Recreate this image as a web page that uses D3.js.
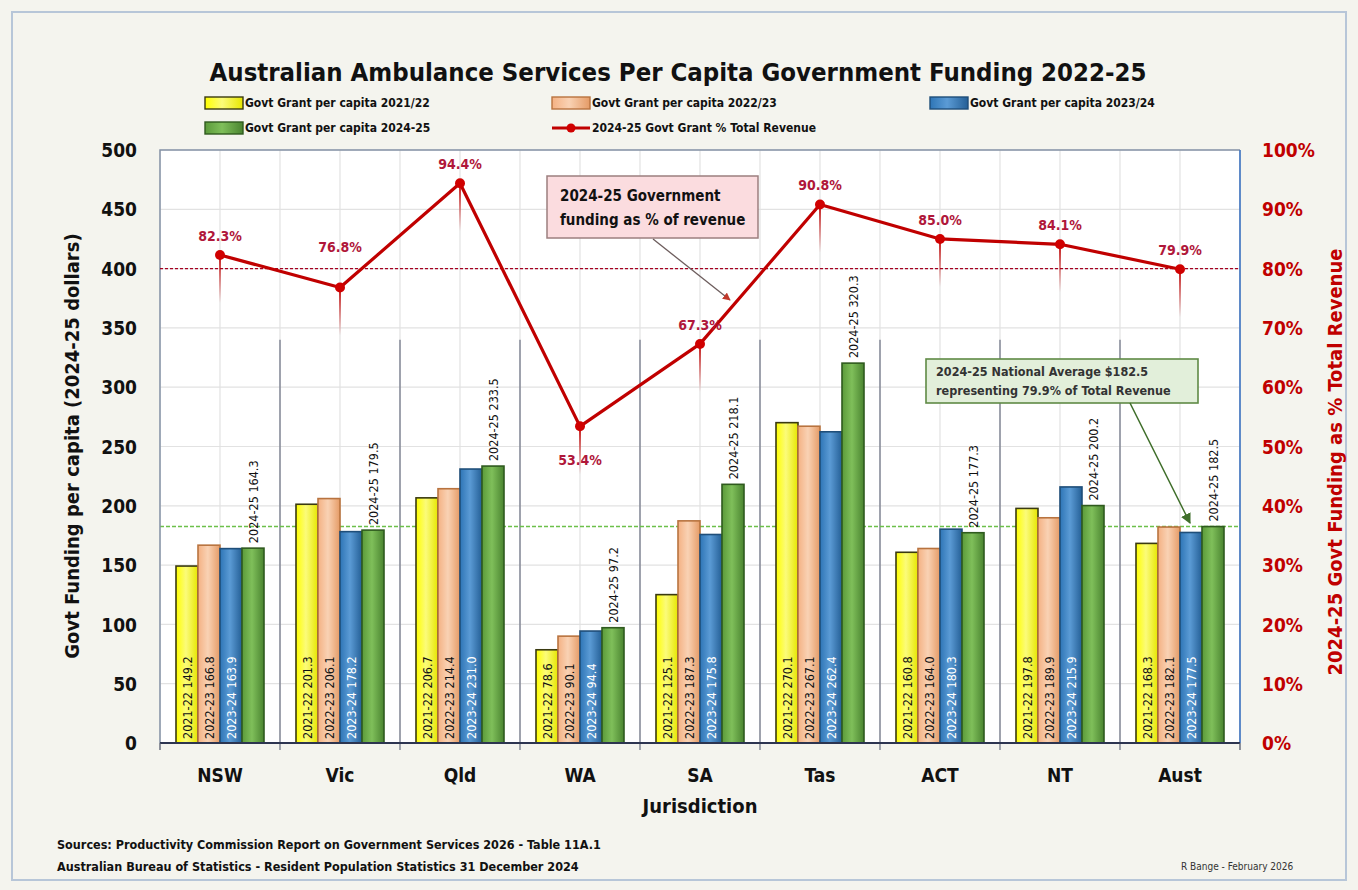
<!DOCTYPE html>
<html>
<head>
<meta charset="utf-8">
<script src="https://cdn.jsdelivr.net/npm/d3@7"></script>
<style>
  body { margin:0; background:#fff; }
  svg text { font-family: "Liberation Sans Narrow", "DejaVu Sans Condensed", "Open Sans", sans-serif; }
</style>
</head>
<body>
<div id="chart"></div>
<script>
const W = 1358, H = 890;

// data
const jurisdictions = ["NSW","Vic","Qld","WA","SA","Tas","ACT","NT","Aust"];
const years = ["2021-22","2022-23","2023-24","2024-25"];
const grant2122 = [149.2,201.3,206.7,78.6,125.1,270.1,160.8,197.8,168.3];
const grant2223 = [166.8,206.1,214.4,90.1,187.3,267.1,164.0,189.9,182.1];
const grant2324 = [163.9,178.2,231.0,94.4,175.8,262.4,180.3,215.9,177.5];
const grant2425 = [164.3,179.5,233.5,97.2,218.1,320.3,177.3,200.2,182.5];
const pctRevenue = [82.3,76.8,94.4,53.4,67.3,90.8,85.0,84.1,79.9];
const nationalAvg = 182.5;
const pctRef = 80;
const leftTicks = [0,50,100,150,200,250,300,350,400,450,500];
const rightTicks = [0,10,20,30,40,50,60,70,80,90,100];
const legendLabels = ["Govt Grant per capita 2021/22","Govt Grant per capita 2022/23","Govt Grant per capita 2023/24",
  "Govt Grant per capita 2024-25","2024-25 Govt Grant % Total Revenue"];

const series = [grant2122, grant2223, grant2324, grant2425];
const strokes = ["#3a3a10","#b8733f","#1f4e79","#2f5a1e"];
const labelCol = ["#111","#111","#fff","#111"];

const svg = d3.select("#chart").append("svg")
  .attr("width",W).attr("height",H);

const defs = svg.append("defs");
// bevel gradients for the bars
const gradStops = [
  ["#fbfb7a","#ffff00","#e6e600"],
  ["#f9d2b4","#f4b183","#e59b66"],
  ["#5b9bd5","#2e75b6","#245f96"],
  ["#7fbf5a","#5b9a3a","#4a8430"]
];
gradStops.forEach((s,i)=>{
  const g = defs.append("linearGradient").attr("id","g"+i).attr("x1","0").attr("x2","1").attr("y1","0").attr("y2","0");
  g.append("stop").attr("offset","0%").attr("stop-color",s[1]);
  g.append("stop").attr("offset","45%").attr("stop-color",s[0]);
  g.append("stop").attr("offset","100%").attr("stop-color",s[2]);
});
const drop = defs.append("linearGradient").attr("id","drop").attr("x1","0").attr("x2","0").attr("y1","0").attr("y2","1");
drop.append("stop").attr("offset","0%").attr("stop-color","#c00000").attr("stop-opacity",0.9);
drop.append("stop").attr("offset","100%").attr("stop-color","#c00000").attr("stop-opacity",0);

defs.append("marker").attr("id","arrG").attr("viewBox","0 0 10 10").attr("refX",9).attr("refY",5)
  .attr("markerWidth",7).attr("markerHeight",7).attr("orient","auto")
  .append("path").attr("d","M0,0L10,5L0,10z").attr("fill","#3f6e2a");
defs.append("marker").attr("id","arrR").attr("viewBox","0 0 10 10").attr("refX",9).attr("refY",5)
  .attr("markerWidth",6).attr("markerHeight",6).attr("orient","auto")
  .append("path").attr("d","M0,0L10,5L0,10z").attr("fill","#c0392b");

// page background + frame
svg.append("rect").attr("x",0).attr("y",0).attr("width",W).attr("height",H).attr("fill","#f4f4ee");
svg.append("rect").attr("x",12).attr("y",12).attr("width",W-24).attr("height",H-22)
  .attr("fill","none").attr("stroke","#b7c6d8").attr("stroke-width",2);

// scales
const x0 = d3.scaleBand().domain(jurisdictions).range([160,1240]);
const x1 = d3.scaleBand().domain(years).range([16,104]);
const y = d3.scaleLinear().domain([0,500]).range([743,150]);
const y2 = d3.scaleLinear().domain([0,100]).range([743,150]);

// plot area
svg.append("rect").attr("x",160).attr("y",150).attr("width",1080).attr("height",593).attr("fill","#ffffff");

// grid
svg.append("g").selectAll("line").data(leftTicks.slice(1)).enter().append("line")
  .attr("x1",160).attr("x2",1240).attr("y1",d=>y(d)).attr("y2",d=>y(d))
  .attr("stroke","#e2e2e2").attr("stroke-width",1.2);
const halfSteps = d3.range(0,19).map(i=>160+i*x0.bandwidth()/2);
svg.append("g").selectAll("line").data(halfSteps).enter().append("line")
  .attr("x1",d=>d).attr("x2",d=>d).attr("y1",150).attr("y2",743)
  .attr("stroke","#e2e2e2").attr("stroke-width",1.2);
// band separators
svg.append("g").selectAll("line").data(jurisdictions.slice(1)).enter().append("line")
  .attr("x1",d=>x0(d)).attr("x2",d=>x0(d)).attr("y1",y(340)).attr("y2",750)
  .attr("stroke","#6a7082").attr("stroke-width",1.2);

// national average line
svg.append("line").attr("x1",160).attr("x2",1240).attr("y1",y(nationalAvg)).attr("y2",y(nationalAvg))
  .attr("stroke","#6cc04a").attr("stroke-width",1.6).attr("stroke-dasharray","4,2");

// bars
const groups = svg.append("g").selectAll("g").data(jurisdictions).enter().append("g")
  .attr("transform",d=>`translate(${x0(d)},0)`);
series.forEach((s,si)=>{
  groups.append("rect")
    .attr("x",x1(years[si])).attr("width",x1.bandwidth())
    .attr("y",(d,i)=>y(s[i])).attr("height",(d,i)=>y(0)-y(s[i]))
    .attr("fill",`url(#g${si})`).attr("stroke",strokes[si]).attr("stroke-width",1.6);
});
// bar labels inside (first three years)
series.slice(0,3).forEach((s,si)=>{
  groups.append("text")
    .attr("transform",(d,i)=>`translate(${x1(years[si])+x1.bandwidth()/2+0.5},${y(0)-4}) rotate(-90)`)
    .attr("dy","0.35em").attr("font-size",12.5).attr("fill",labelCol[si])
    .text((d,i)=>years[si]+"  "+s[i].toFixed(1));
});
// 2024-25 labels above bars
groups.append("text")
  .attr("transform",(d,i)=>`translate(${x1(years[3])+x1.bandwidth()/2+0.5},${y(grant2425[i])-5}) rotate(-90)`)
  .attr("dy","0.35em").attr("font-size",12.5).attr("fill","#111")
  .text((d,i)=>"2024-25  "+grant2425[i].toFixed(1));

// plot border
svg.append("path").attr("d","M160,743V150H1240").attr("fill","none").attr("stroke","#8592a6").attr("stroke-width",1.5);
svg.append("line").attr("x1",1240).attr("x2",1240).attr("y1",150).attr("y2",743).attr("stroke","#4f7fc4").attr("stroke-width",1.8);
svg.append("line").attr("x1",160).attr("x2",1240).attr("y1",743).attr("y2",743).attr("stroke","#2d3550").attr("stroke-width",2);
svg.append("g").selectAll("line").data([160,1240]).enter().append("line")
  .attr("x1",d=>d).attr("x2",d=>d).attr("y1",743).attr("y2",750).attr("stroke","#555b6e").attr("stroke-width",1.3);

// 80% reference line
svg.append("line").attr("x1",160).attr("x2",1240).attr("y1",y2(pctRef)).attr("y2",y2(pctRef))
  .attr("stroke","#a50021").attr("stroke-width",1.4).attr("stroke-dasharray","3,2");

// % revenue line
const cx = d => x0(d)+x0.bandwidth()/2;
svg.append("g").selectAll("rect").data(jurisdictions).enter().append("rect")
  .attr("x",d=>cx(d)-1).attr("width",2).attr("y",(d,i)=>y2(pctRevenue[i])).attr("height",48)
  .attr("fill","url(#drop)");
const line = d3.line().x(d=>cx(d)).y((d)=>y2(pctRevenue[jurisdictions.indexOf(d)]));
svg.append("path").datum(jurisdictions).attr("d",line)
  .attr("fill","none").attr("stroke","#c00000").attr("stroke-width",3.2).attr("stroke-linejoin","round");
svg.append("g").selectAll("circle").data(jurisdictions).enter().append("circle")
  .attr("cx",d=>cx(d)).attr("cy",(d,i)=>y2(pctRevenue[i])).attr("r",5).attr("fill","#d00000");
// labels sit above the marker, except where the line would cross them
const labelShift = d => d === "WA" ? 34 : d === "Vic" ? -40 : -19;
svg.append("g").selectAll("text").data(jurisdictions).enter().append("text")
  .attr("x",d=>cx(d)).attr("y",(d,i)=>y2(pctRevenue[i])+labelShift(d))
  .attr("text-anchor","middle").attr("dy","0.35em").attr("font-size",14).attr("font-weight","bold").attr("fill","#b0173a")
  .text((d,i)=>pctRevenue[i].toFixed(1)+"%");

// axes
const yAxisL = svg.append("g").attr("transform","translate(160,0)")
  .call(d3.axisLeft(y).tickValues(leftTicks).tickSize(0).tickPadding(23));
yAxisL.select(".domain").remove();
yAxisL.selectAll("text").attr("font-size",19).attr("font-weight","bold").attr("fill","#111").attr("dy","0.35em");

const yAxisR = svg.append("g").attr("transform","translate(1240,0)")
  .call(d3.axisRight(y2).tickValues(rightTicks).tickSize(0).tickPadding(22).tickFormat(d=>d+"%"));
yAxisR.select(".domain").remove();
yAxisR.selectAll("text").attr("font-size",19).attr("font-weight","bold").attr("fill","#c00000").attr("dy","0.35em");

const xAxis = svg.append("g").attr("transform","translate(0,743)")
  .call(d3.axisBottom(x0).tickSize(0).tickPadding(32));
xAxis.select(".domain").remove();
xAxis.selectAll("text").attr("font-size",19).attr("font-weight","bold").attr("fill","#111").attr("dy","0.35em")
  .attr("y",32);

// axis titles
svg.append("text").attr("transform","translate(72,446) rotate(-90)").attr("text-anchor","middle")
  .attr("font-size",20).attr("font-weight","bold").attr("fill","#111")
  .attr("dy","0.35em").text("Govt Funding per capita  (2024-25 dollars)");
svg.append("text").attr("transform","translate(1335,462) rotate(-90)").attr("text-anchor","middle")
  .attr("font-size",20).attr("font-weight","bold").attr("fill","#c00000")
  .attr("dy","0.35em").text("2024-25 Govt Funding as %  Total Revenue");
svg.append("text").attr("x",700).attr("y",806).attr("text-anchor","middle").attr("dy","0.35em")
  .attr("font-size",20).attr("font-weight","bold").attr("fill","#111").text("Jurisdiction");

// title
svg.append("text").attr("x",678).attr("y",72).attr("text-anchor","middle").attr("dy","0.35em")
  .attr("font-size",25.5).attr("font-weight","bold").attr("fill","#111")
  .text("Australian Ambulance Services Per Capita Government Funding 2022-25");

// legend
const legendPos = [[205,103],[552,103],[930,103],[205,128],[552,128]];
legendLabels.forEach((lab,i)=>{
  const [lx,ly] = legendPos[i];
  if(i<4){
    svg.append("rect").attr("x",lx).attr("y",ly-6).attr("width",38).attr("height",12)
      .attr("fill",`url(#g${i})`).attr("stroke",strokes[i]).attr("stroke-width",1.4);
  } else {
    svg.append("line").attr("x1",lx).attr("x2",lx+38).attr("y1",ly).attr("y2",ly)
      .attr("stroke","#c00000").attr("stroke-width",3.2);
    svg.append("circle").attr("cx",lx+19).attr("cy",ly).attr("r",4.5).attr("fill","#d00000");
  }
  svg.append("text").attr("x",lx+40).attr("y",ly).attr("dy","0.35em")
    .attr("font-size",12).attr("font-weight","bold").attr("fill","#111").text(lab);
});

// annotation: % of revenue
svg.append("rect").attr("x",547).attr("y",176).attr("width",211).attr("height",62)
  .attr("fill","#fbdcdf").attr("stroke","#9c7f7f").attr("stroke-width",1.5);
svg.append("text").attr("x",560).attr("y",196).attr("dy","0.35em").attr("font-size",15).attr("font-weight","bold")
  .attr("fill","#111").text("2024-25 Government");
svg.append("text").attr("x",560).attr("y",220).attr("dy","0.35em").attr("font-size",15).attr("font-weight","bold")
  .attr("fill","#111").text("funding as % of revenue");
svg.append("line").attr("x1",653).attr("y1",239).attr("x2",730).attr("y2",300)
  .attr("stroke","#6d5d5d").attr("stroke-width",1.3).attr("marker-end","url(#arrR)");

// annotation: national average
svg.append("rect").attr("x",926).attr("y",359).attr("width",272).attr("height",44)
  .attr("fill","#e2efda").attr("stroke","#5f8a45").attr("stroke-width",1.6);
svg.append("text").attr("x",936).attr("y",372).attr("dy","0.35em").attr("font-size",12.5).attr("font-weight","bold")
  .attr("fill","#333").text("2024-25 National Average $182.5");
svg.append("text").attr("x",936).attr("y",391).attr("dy","0.35em").attr("font-size",12.5).attr("font-weight","bold")
  .attr("fill","#333").text("representing 79.9% of Total Revenue");
svg.append("line").attr("x1",1130).attr("y1",403).attr("x2",1190).attr("y2",523)
  .attr("stroke","#3f6e2a").attr("stroke-width",1.5).attr("marker-end","url(#arrG)");

// footer
svg.append("text").attr("x",57).attr("y",845).attr("dy","0.35em").attr("font-size",12.5).attr("font-weight","bold")
  .attr("fill","#111").text("Sources: Productivity Commission Report on Government Services 2026 - Table 11A.1");
svg.append("text").attr("x",57).attr("y",867).attr("dy","0.35em").attr("font-size",12.5).attr("font-weight","bold")
  .attr("fill","#111").text("Australian Bureau of Statistics - Resident Population Statistics 31 December 2024");
svg.append("text").attr("x",1181).attr("y",866).attr("dy","0.35em").attr("font-size",10)
  .attr("fill","#333").text("R Bange - February 2026");
</script>
</body>
</html>
